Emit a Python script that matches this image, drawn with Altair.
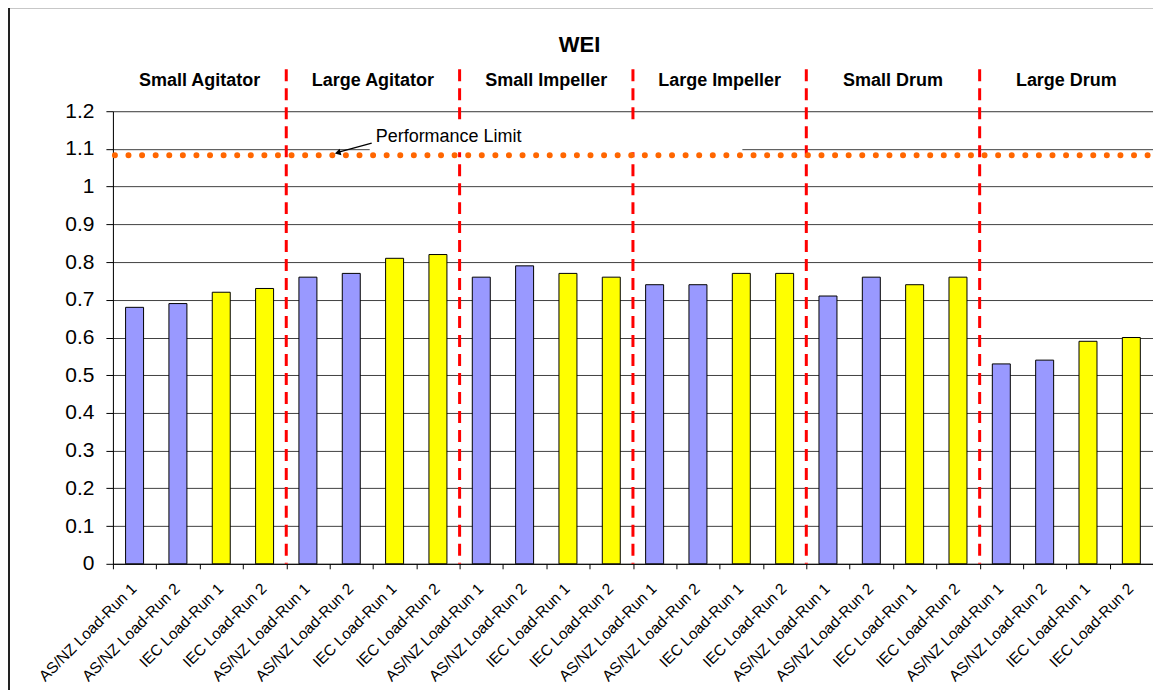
import altair as alt
import pandas as pd

groups = ["Small Agitator", "Large Agitator", "Small Impeller", "Large Impeller", "Small Drum", "Large Drum"]
runs = ["AS/NZ Load-Run 1", "AS/NZ Load-Run 2", "IEC Load-Run 1", "IEC Load-Run 2"]
run_type = ["AS/NZ", "AS/NZ", "IEC", "IEC"]
small_agitator = [0.68, 0.69, 0.72, 0.73]
large_agitator = [0.76, 0.77, 0.81, 0.82]
small_impeller = [0.76, 0.79, 0.77, 0.76]
large_impeller = [0.74, 0.74, 0.77, 0.77]
small_drum = [0.71, 0.76, 0.74, 0.76]
large_drum = [0.53, 0.54, 0.59, 0.60]
performance_limit = 1.083
y_ticks = [0, 0.1, 0.2, 0.3, 0.4, 0.5, 0.6, 0.7, 0.8, 0.9, 1, 1.1, 1.2]

series = [small_agitator, large_agitator, small_impeller, large_impeller, small_drum, large_drum]

rows = []
for gi, (g, vals) in enumerate(zip(groups, series)):
    for ri, (r, t, v) in enumerate(zip(runs, run_type, vals)):
        idx = gi * 4 + ri
        rows.append({"id": f"{idx:02d}|{r}", "group": g, "run": r, "type": t, "value": v, "pos": ri})
df = pd.DataFrame(rows)
order = list(df["id"])

group_df = df[df["pos"] == 2]
bound_df = df[(df["pos"] == 0) & (df["group"] != groups[0])]
limit_df = pd.DataFrame({"limit": [performance_limit]})

W, H = 1041, 453
FONT = "Liberation Sans"

xscale = alt.Scale(domain=order, paddingInner=0, paddingOuter=0)
yscale = alt.Scale(domain=[0, 1.2], nice=False, zero=True)
xaxis = alt.Axis(
    labelExpr="split(datum.value, '|')[1]", labelAngle=-45, labelFontSize=15.5,
    labelFont=FONT, labelColor="black", tickBand="extent", tickSize=5,
    tickColor="black", domainColor="black", labelPadding=12, labelOffset=-6,
    grid=False, labelOverlap=False,
)
yaxis = alt.Axis(
    values=y_ticks, format="~g", labelFontSize=21, labelFont=FONT, labelColor="black",
    tickSize=7, tickColor="black", domainColor="black", labelPadding=12,
    grid=True, gridColor="#404040", gridWidth=1, labelOverlap=False,
)

bars = alt.Chart(df).mark_bar(size=18, stroke="black", strokeWidth=1).encode(
    x=alt.X("id:N", sort=order, scale=xscale, title=None, axis=xaxis),
    y=alt.Y("value:Q", scale=yscale, title=None, axis=yaxis),
    color=alt.Color("type:N", scale=alt.Scale(domain=["AS/NZ", "IEC"], range=["#9999FF", "#FFFF00"]), legend=None),
)

bounds = alt.Chart(bound_df).mark_rule(color="#FF0000", strokeWidth=3, strokeDash=[12, 7]).encode(
    x=alt.X("id:N", sort=order, scale=xscale, bandPosition=0, title=None, axis=xaxis),
    y=alt.value(-42),
    y2=alt.value(H),
)

white_box = alt.Chart(limit_df).mark_rect(fill="white").encode(
    x=alt.value(257), x2=alt.value(630), y=alt.value(13), y2=alt.value(41)
)

limit_line = alt.Chart(limit_df).mark_rule(
    color="#FF6600", strokeWidth=6, strokeDash=[0, 13.6], strokeCap="round"
).encode(
    y=alt.Y("limit:Q", scale=yscale, title=None, axis=yaxis), x=alt.value(2), x2=alt.value(W)
)

limit_text = alt.Chart(limit_df).mark_text(
    text="Performance Limit", align="left", baseline="middle", fontSize=18, font=FONT, color="black"
).encode(x=alt.value(263), y=alt.value(26))

arrow_line = alt.Chart(limit_df).mark_rule(color="black", strokeWidth=1.3).encode(
    x=alt.value(259), x2=alt.value(226), y=alt.value(32), y2=alt.value(41)
)
arrow_head = alt.Chart(limit_df).mark_point(
    shape="triangle-left", filled=True, color="black", size=45, angle=345, opacity=1
).encode(x=alt.value(225), y=alt.value(41.5))

group_text = alt.Chart(group_df).mark_text(
    fontSize=18, fontWeight="bold", font=FONT, color="black", baseline="middle"
).encode(
    x=alt.X("id:N", sort=order, scale=xscale, bandPosition=0, title=None, axis=xaxis),
    y=alt.value(-30),
    text="group:N",
)

title_text = alt.Chart(limit_df).mark_text(
    text="WEI", fontSize=22, fontWeight="bold", font=FONT, color="black", baseline="middle"
).encode(x=alt.value(467), y=alt.value(-66))

border_left = alt.Chart(limit_df).mark_rule(color="#222222", strokeWidth=2).encode(
    x=alt.value(-104), y=alt.value(-104), y2=alt.value(600)
)
border_top = alt.Chart(limit_df).mark_rule(color="#222222", strokeWidth=2).encode(
    x=alt.value(-104), x2=alt.value(1100), y=alt.value(-104)
)

chart = alt.layer(
    bars, bounds, white_box, limit_line, limit_text, arrow_line, arrow_head,
    group_text, title_text, border_left, border_top,
).properties(
    width=W, height=H,
    autosize=alt.AutoSizeParams(type="none"),
    padding={"left": 105, "top": 103, "right": 0, "bottom": 126},
).configure_view(stroke="#808080", strokeWidth=1).configure(background="white")

chart.save("out.html", embed_options={"renderer": "svg", "actions": False})
